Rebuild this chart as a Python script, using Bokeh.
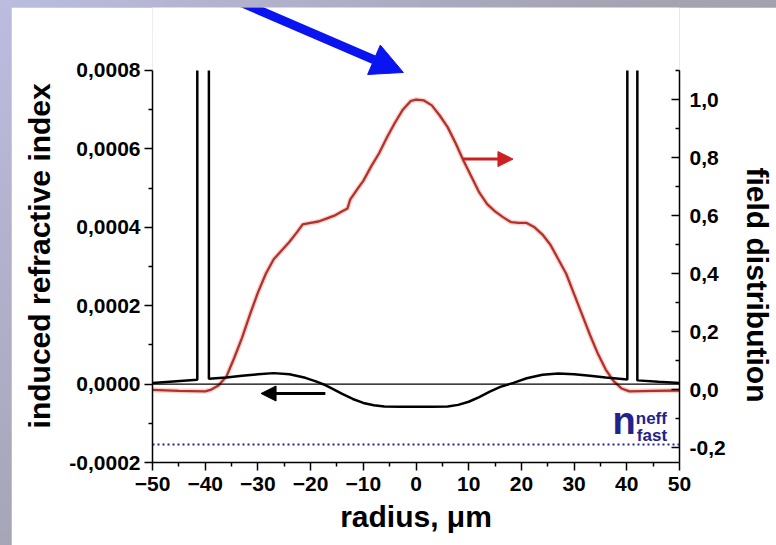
import math
from bokeh.plotting import figure
from bokeh.models import (Range1d, LinearAxis, FixedTicker, CustomJSTickFormatter,
                          Span, Arrow, NormalHead, Label)
from bokeh.layouts import column
from bokeh.embed import file_html
from bokeh.resources import INLINE

NaN = float("nan")

# ---------------- data ----------------
# induced refractive index (left axis), black curve; the two narrow spikes
# near +/-40 um run off the top of the axis (0,0008)
radius_index = [-50, -41.5, -41.5, NaN, -39.3, -39.3, -36, -33, -30, -27, -24, -21, -19,
                -17.5, -16, -14, -12, -10, -8, -6, -3, 0, 3, 6, 8, 10, 12, 14, 16,
                18.5, 21, 24, 27, 30, 33, 36, 40.1, 40.1, NaN, 42.0, 42.0, 46, 50]
induced_index = [0.0000025, 0.000011, 0.0008, NaN, 0.0008, 0.0000135, 0.000017, 0.000021,
                 0.000025, 0.000028, 0.000025, 0.000016, 0.000007, -0.000001,
                 -0.000011, -0.000025, -0.000038, -0.000048, -0.000054, -0.000057,
                 -0.000058, -0.000058, -0.000058, -0.000057, -0.000053, -0.000045,
                 -0.000033, -0.000019, -0.000007, 0.000003, 0.000015, 0.000024,
                 0.000027, 0.000025, 0.000021, 0.000017, 0.000012, 0.0008, NaN, 0.0008,
                 0.0000095, 0.000006, 0.000003]

# field distribution (right axis), red curve
radius_field = [-50, -45, -40, -39, -37.5, -36, -34.5, -33, -31.5, -30, -28.5, -27,
                -25.5, -24, -22.5, -21.5, -20, -18.5, -17, -15.5, -14, -13, -12.5,
                -11, -10, -8.5, -7, -5.5, -4, -2.5, -1, 0, 1.5, 3, 4.5, 6, 7.5, 9,
                10.5, 12, 13.5, 15, 16.5, 18, 19.5, 21, 22.5, 24, 25.5, 27, 28.5, 30,
                31.5, 33, 34.5, 36, 37.5, 39, 40.5, 45, 50]
field = [0.0, -0.003, -0.005, 0.0, 0.015, 0.045, 0.11, 0.18, 0.26, 0.335, 0.40, 0.45,
         0.48, 0.51, 0.545, 0.57, 0.575, 0.58, 0.59, 0.60, 0.615, 0.625, 0.655, 0.695,
         0.72, 0.77, 0.815, 0.87, 0.92, 0.965, 0.995, 1.0, 0.997, 0.98, 0.945, 0.905,
         0.85, 0.79, 0.735, 0.68, 0.64, 0.615, 0.595, 0.578, 0.575, 0.575, 0.56,
         0.535, 0.50, 0.45, 0.40, 0.33, 0.26, 0.19, 0.125, 0.07, 0.03, 0.005, -0.005,
         -0.003, -0.002]

n_fast_eff = -0.000154   # dotted level

x_major = [-50, -40, -30, -20, -10, 0, 10, 20, 30, 40, 50]
x_minor = [-45, -35, -25, -15, -5, 5, 15, 25, 35, 45]
left_major = [-0.0002, 0.0, 0.0002, 0.0004, 0.0006, 0.0008]
left_minor = [-0.0001, 0.0001, 0.0003, 0.0005, 0.0007]
right_major = [-0.2, 0.0, 0.2, 0.4, 0.6, 0.8, 1.0]
right_minor = [-0.1, 0.1, 0.3, 0.5, 0.7, 0.9, 1.1]

LEFT_LIM = (-0.0002, 0.0008)
RIGHT_LIM = (-0.25, 1.1)

FONT = "Liberation Sans"
RED = "#b2322a"
NAVY = "#22228a"

# frame runs to the top of the figure so that the big arrow is not clipped;
# the axes themselves are bounded to the original limits
p = figure(width=765, height=538, x_range=Range1d(-50, 50),
           y_range=Range1d(LEFT_LIM[0], 0.00096071), output_backend="svg",
           toolbar_location=None, min_border_left=141, min_border_right=96,
           min_border_top=0, min_border_bottom=83)
p.margin = (7, 0, 0, 11)
p.extra_y_ranges = {"field": Range1d(RIGHT_LIM[0], 1.3170)}
p.background_fill_color = "white"
p.border_fill_color = "white"
p.outline_line_color = None
p.grid.visible = False

right = LinearAxis(y_range_name="field")
p.add_layout(right, "right")

def style_axis(ax):
    ax.axis_line_color = "black"
    ax.axis_line_width = 1.5
    ax.major_tick_line_color = "black"
    ax.minor_tick_line_color = "black"
    ax.major_tick_line_width = 1.5
    ax.minor_tick_line_width = 1.5
    ax.major_label_text_font = FONT
    ax.major_label_text_font_style = "bold"
    ax.major_label_text_font_size = "21px"
    ax.major_label_text_color = "black"
    ax.axis_label_text_font = FONT
    ax.axis_label_text_font_style = "bold"
    ax.axis_label_text_font_size = "30px"
    ax.axis_label_text_color = "black"

xa = p.xaxis[0]
style_axis(xa)
xa.ticker = FixedTicker(ticks=x_major, minor_ticks=x_minor)
xa.major_tick_out = 8
xa.major_tick_in = 0
xa.minor_tick_out = 4
xa.minor_tick_in = 0
xa.major_label_standoff = 6
xa.axis_label = "radius, μm"
xa.axis_label_standoff = 6

ya = p.yaxis[0]
style_axis(ya)
ya.bounds = LEFT_LIM
ya.ticker = FixedTicker(ticks=left_major, minor_ticks=left_minor)
ya.formatter = CustomJSTickFormatter(code="return tick.toFixed(4).replace('.', ',');")
ya.major_tick_out = 8
ya.major_tick_in = 0
ya.minor_tick_out = 4
ya.minor_tick_in = 0
ya.major_label_standoff = 4
ya.axis_label_standoff = 10

style_axis(right)
right.bounds = RIGHT_LIM
right.ticker = FixedTicker(ticks=right_major, minor_ticks=right_minor)
right.formatter = CustomJSTickFormatter(code="return tick.toFixed(1).replace('.', ',');")
right.major_tick_in = 8
right.major_tick_out = 0
right.minor_tick_in = 4
right.minor_tick_out = 0
right.major_label_standoff = 10
right.axis_label_standoff = 12

# vertical titles as axis labels, padded so that they sit centred on the bounded
# axes rather than on the taller plot area
ya.axis_label = "induced refractive index" + "\u00a0" * 5
right.axis_label = "\u00a0" * 12 + "field distribution"

# reference lines
p.add_layout(Span(location=0, dimension="width", line_color="black", line_width=1.2))
p.add_layout(Span(location=n_fast_eff, dimension="width", line_color=NAVY,
                  line_width=2, line_dash="2 3"))

# curves
p.line(radius_field, field, y_range_name="field", line_color="#f2b8b4",
       line_width=5, line_alpha=0.6)
p.line(radius_field, field, y_range_name="field", line_color=RED, line_width=2.3)
p.line(radius_index, induced_index, line_color="black", line_width=2.5)

# arrows pointing to the axes
p.add_layout(Arrow(end=NormalHead(size=15, fill_color="#cc2020", line_color="#cc2020"),
                   x_start=8.9, y_start=0.795, x_end=18.4, y_end=0.795,
                   y_range_name="field", line_color="#cc2020", line_width=3))
p.add_layout(Arrow(end=NormalHead(size=15, fill_color="black", line_color="black"),
                   x_start=-17.2, y_start=-0.000024, x_end=-29.4, y_end=-0.000024,
                   line_color="black", line_width=3))
# big blue arrow at the top
p.add_layout(Arrow(end=NormalHead(size=32, fill_color="#0a14f0", line_color="#0a14f0"),
                   x_start=-34.3, y_start=0.00098, x_end=-2.4, y_end=0.000795,
                   line_color="#0a14f0", line_width=9))

# n_fast^neff label
p.add_layout(Label(x=37.3, y=-0.0000929, text="n", text_font=FONT,
                   text_font_style="bold", text_font_size="38px", text_color=NAVY,
                   text_baseline="alphabetic"))
p.add_layout(Label(x=41.7, y=-0.0000885, text="neff", text_font=FONT,
                   text_font_style="bold", text_font_size="17px", text_color=NAVY,
                   text_baseline="alphabetic"))
p.add_layout(Label(x=41.9, y=-0.000131, text="fast", text_font=FONT,
                   text_font_style="bold", text_font_size="17px", text_color=NAVY,
                   text_baseline="alphabetic"))

layout = column(p, styles={"background": "linear-gradient(135deg, #bcbce0 0%, #a4a4b4 45%, #9c9ca6 100%)"})
open("out.html", "w").write(file_html(layout, INLINE))
